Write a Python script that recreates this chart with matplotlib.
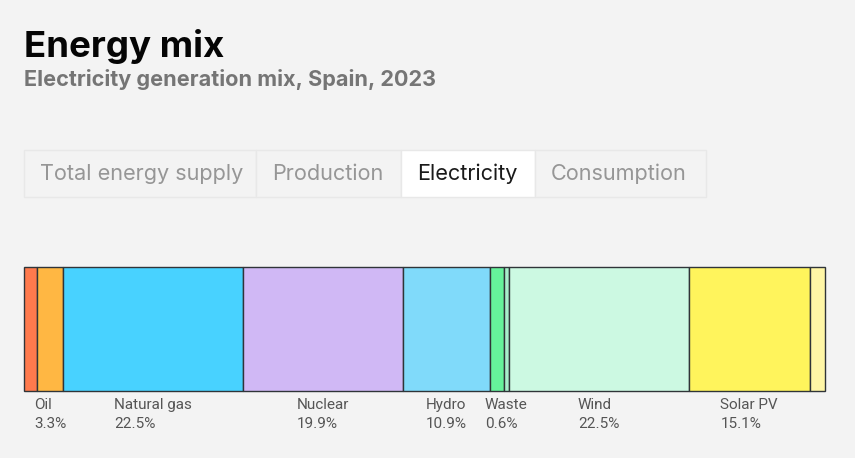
import matplotlib
matplotlib.use("Agg")
import matplotlib.pyplot as plt
from matplotlib.patches import Rectangle

sources = ["Coal", "Oil", "Natural gas", "Nuclear", "Hydro", "Bioenergy", "Waste", "Wind", "Solar PV", "Other"]
shares = [1.6, 3.3, 22.5, 19.9, 10.9, 1.7, 0.6, 22.5, 15.1, 1.9]
labelled = ["Oil", "Natural gas", "Nuclear", "Hydro", "Waste", "Wind", "Solar PV"]
tabs = ["Total energy supply", "Production", "Electricity", "Consumption"]
active_tab = "Electricity"

colors = ["#ff7a4d", "#ffb743", "#48d2ff", "#d0b8f5", "#80dafa", "#66f29b", "#a8eecb", "#ccf9e2", "#fff45c", "#fff6a6"]
bg = "#f3f3f3"
W, H = 855, 458

plt.rcParams["font.family"] = ["Inter", "DejaVu Sans"]

fig = plt.figure(figsize=(W / 100, H / 100), dpi=100, facecolor=bg)

# page layer, measured in pixels
page = fig.add_axes([0, 0, 1, 1])
page.set_xlim(0, W)
page.set_ylim(H, 0)
page.axis("off")

page.text(24, 57, "Energy mix", fontsize=26.4, fontweight="bold", color="#050505", va="baseline", ha="left")
page.text(24, 86, "Electricity generation mix, Spain, 2023", fontsize=15.6, fontweight="bold", color="#757575", va="baseline", ha="left")

# tab strip
tab_edges = [24, 256, 401, 535, 706]
for i, name in enumerate(tabs):
    on = name == active_tab
    page.add_patch(Rectangle((tab_edges[i], 150), tab_edges[i + 1] - tab_edges[i], 47,
                             fc="white" if on else bg, ec="#e8e8e8", lw=1))
    page.text(tab_edges[i] + 16, 180, name, fontsize=15.6, color="#1a1a1a" if on else "#969696", va="baseline", ha="left")

# the stacked bar
ax = fig.add_axes([24 / W, 1 - 391 / H, 801 / W, 124 / H])
ax.set_xlim(0, 100)
ax.set_ylim(0, 1)
ax.axis("off")

left = 0
for name, share, c in zip(sources, shares, colors):
    ax.barh(0.5, share, height=1, left=left, color=c, edgecolor="#2f3438", linewidth=1, clip_on=False)
    if name in labelled:
        ax.text(left + share / 2, -0.06, f"{name}\n{share}%", fontsize=11, family=["Roboto", "DejaVu Sans"], color="#555555",
                ha="center", va="top", multialignment="left", linespacing=1.38)
    left += share

fig.savefig("out.png", dpi=100, facecolor=bg)
